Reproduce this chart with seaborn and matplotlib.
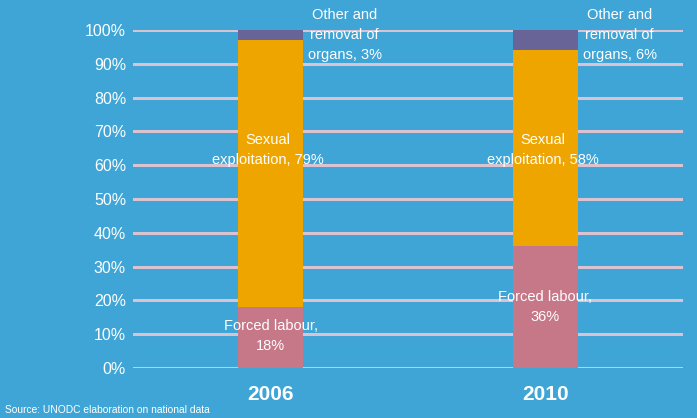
import matplotlib
matplotlib.use("Agg")
import matplotlib.pyplot as plt
import seaborn as sns

years = ["2006", "2010"]
forced = [18, 36]
sexual = [79, 58]
other = [3, 6]

forced_labels = ["Forced labour,\n18%", "Forced labour,\n36%"]
sexual_labels = ["Sexual\nexploitation, 79%", "Sexual\nexploitation, 58%"]
other_labels = ["Other and\nremoval of\norgans, 3%", "Other and\nremoval of\norgans, 6%"]

bg = "#3EA5D6"
sns.set_style("white")
plt.rcParams["font.family"] = ["Liberation Sans", "DejaVu Sans"]

fig = plt.figure(figsize=(6.97, 4.18), dpi=100, facecolor=bg)
ax = fig.add_axes([133 / 697, 50 / 418, 550 / 697, 338 / 418])
ax.set_facecolor(bg)

w = 0.233
sns.barplot(x=years, y=forced, color="#C77888", width=w, ax=ax,
            saturation=1, zorder=3, linewidth=0)
sns.barplot(x=years, y=sexual, bottom=forced, color="#EFA500", width=w,
            ax=ax, saturation=1, zorder=3, linewidth=0)
bottom2 = [a + b for a, b in zip(forced, sexual)]
sns.barplot(x=years, y=other, bottom=bottom2, color="#686498", width=w,
            ax=ax, saturation=1, zorder=3, linewidth=0)

ax.set_xlim(-0.5, 1.5)
ax.set_ylim(0, 100)
ax.set_yticks(range(0, 101, 10))
ax.set_yticklabels([f"{v}%" for v in range(0, 101, 10)], color="white",
                   fontsize=11.5)
ax.tick_params(axis="y", length=0, pad=5)
ax.tick_params(axis="x", length=0, pad=12)
for lab in ax.get_xticklabels():
    lab.set_color("white")
    lab.set_fontsize(15)
    lab.set_fontweight("bold")
ax.grid(axis="y", color="#D9C3D0", linewidth=2.2, zorder=0)
ax.set_axisbelow(True)
for s in ax.spines.values():
    s.set_visible(False)

for i in range(len(years)):
    ax.text(i, forced[i] / 2 + (0.5 if i == 0 else 0), forced_labels[i],
            ha="center", va="center", color="white", fontsize=10.5,
            zorder=5, linespacing=1.5)
    ax.text(i - 0.01, 64.5, sexual_labels[i], ha="center", va="center",
            color="white", fontsize=10.5, zorder=5, linespacing=1.5)
    ax.text(i + 0.27, 98.5, other_labels[i], ha="center", va="center",
            color="white", fontsize=10.5, zorder=5, linespacing=1.55)

fig.text(5 / 697, 1 - 410 / 418, "Source: UNODC elaboration on national data",
         color="white", fontsize=7.4, va="center", ha="left")

fig.savefig("out.png", dpi=100, facecolor=bg)
